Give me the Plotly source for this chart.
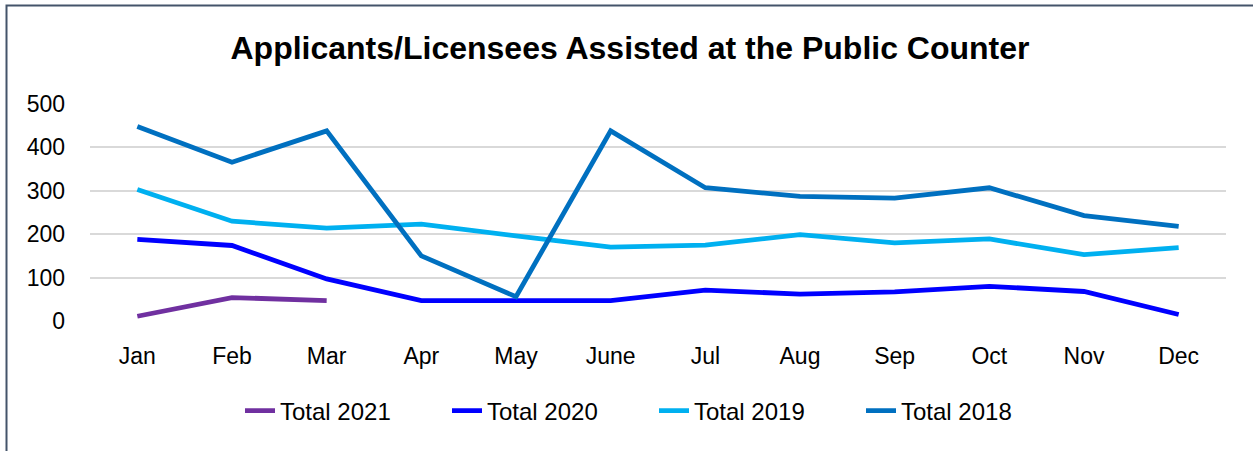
import plotly.graph_objects as go

months = ["Jan", "Feb", "Mar", "Apr", "May", "June", "Jul", "Aug", "Sep", "Oct", "Nov", "Dec"]
total_2021 = [11, 54, 47]
total_2020 = [188, 174, 97, 47, 47, 47, 71, 62, 67, 80, 68, 15]
total_2019 = [303, 230, 214, 223, 196, 170, 175, 199, 180, 189, 153, 169]
total_2018 = [448, 366, 438, 150, 56, 438, 307, 287, 283, 307, 243, 218]

series = [
    ("Total 2021", total_2021, "#7030A0"),
    ("Total 2020", total_2020, "#0000FF"),
    ("Total 2019", total_2019, "#00B0F0"),
    ("Total 2018", total_2018, "#0070C0"),
]

W, H = 1253, 451
L, R, T, B = 90, 1226, 104, 321  # plot area in pixels

fig = go.Figure()
for name, vals, color in series:
    fig.add_trace(go.Scatter(
        x=months[:len(vals)], y=vals, name=name, mode="lines",
        line=dict(color=color, width=4.8), cliponaxis=False,
    ))

def px2x(p):
    return (p - L) / (R - L)

def px2y(p):
    return (B - p) / (B - T)

fig.add_shape(type="rect", xref="paper", yref="paper",
              x0=px2x(6.5), x1=px2x(1270), y0=px2y(5.5), y1=px2y(470),
              line=dict(color="#44546A", width=2), fillcolor="rgba(0,0,0,0)", layer="below")

font_main = "Liberation Sans, Arial, sans-serif"
fig.update_layout(
    width=W, height=H,
    margin=dict(l=L, r=W - R, t=T, b=H - B),
    paper_bgcolor="white", plot_bgcolor="white",
    title=dict(text="<b>Applicants/Licensees Assisted at the Public Counter</b>",
               x=px2x(630), xref="paper", xanchor="center", y=1 - 48 / H, yanchor="middle",
               font=dict(family="Liberation Sans, Arial, sans-serif", size=32, color="black")),
    xaxis=dict(categoryorder="array", categoryarray=months, range=[-0.5, 11.5],
               showgrid=False, showline=False, zeroline=False, ticks="",
               tickfont=dict(family=font_main, size=23, color="black"), ticklabelstandoff=19),
    yaxis=dict(range=[0, 500], dtick=100, showgrid=True, gridcolor="#D9D9D9", gridwidth=1.5,
               zeroline=False, showline=False, ticks="",
               tickfont=dict(family=font_main, size=23, color="black"), ticklabelstandoff=24),
    legend=dict(orientation="h", x=px2x(654), xanchor="center", y=px2y(411), yanchor="middle",
                font=dict(family=font_main, size=24, color="black"),
                itemwidth=30, entrywidth=162, entrywidthmode="pixels", tracegroupgap=0),
    showlegend=True,
)

fig.write_html("out.html", config={"displayModeBar": False},
               post_script="document.body.style.margin='0';document.body.style.padding='0';")
